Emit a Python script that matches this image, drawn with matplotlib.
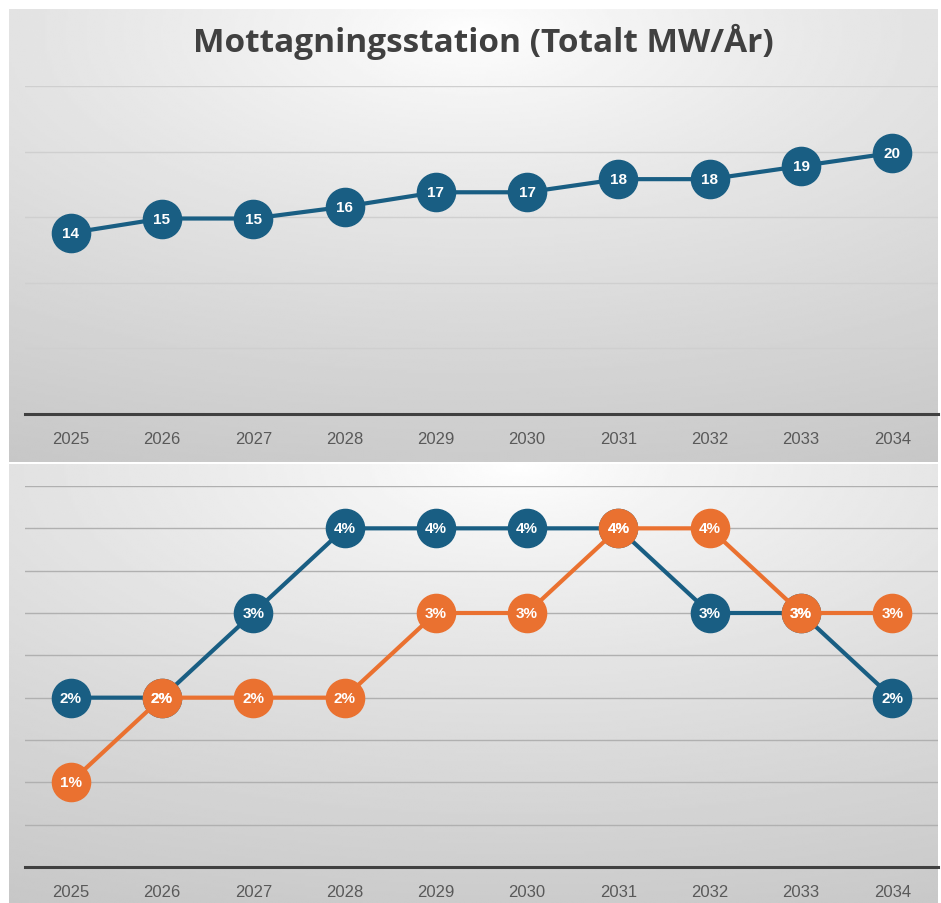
import numpy as np
import matplotlib
matplotlib.use('Agg')
import matplotlib.pyplot as plt

plt.rcParams['font.family'] = ['Liberation Sans', 'DejaVu Sans']

years = ['2025', '2026', '2027', '2028', '2029', '2030', '2031', '2032', '2033', '2034']
total_mw = [13.8, 14.9, 14.9, 15.8, 16.9, 16.9, 17.9, 17.9, 18.9, 19.9]
share_blue = [2, 2, 3, 4, 4, 4, 4, 3, 3, 2]
share_orange = [1, 2, 2, 2, 3, 3, 4, 4, 3, 3]

title = 'Mottagningsstation (Totalt MW/År)'
BLUE = '#195e83'
ORANGE = '#ea7130'

W, H = 941, 904
fig = plt.figure(figsize=(W / 100, H / 100), dpi=100)
fig.patch.set_facecolor('white')


def px_axes(x0, y0, x1, y1, **kw):
    # pixel box (top-left origin) -> figure axes
    return fig.add_axes([x0 / W, 1 - y1 / H, (x1 - x0) / W, (y1 - y0) / H], **kw)


def gradient(ax, cx, cy, lo=0.80):
    ny, nx = 200, 400
    yy, xx = np.mgrid[0:1:ny * 1j, 0:1:nx * 1j]
    d = np.sqrt(((xx - cx) * 1.0) ** 2 + ((yy - cy) * 1.1) ** 2)
    d = np.clip(d / d.max(), 0, 1)
    img = 1 - (1 - lo) * d ** 0.8
    ax.imshow(img, cmap='gray', vmin=0, vmax=1, aspect='auto',
              extent=[0, 1, 1, 0], interpolation='bilinear')
    ax.set_axis_off()


# backgrounds
bg1 = px_axes(9, 10, 938, 463)
gradient(bg1, 0.5, 0.05, lo=0.78)
bg2 = px_axes(9, 465, 938, 904)
gradient(bg2, 0.55, 0.0, lo=0.78)

fig.text(483 / W, 1 - 42 / H, title, ha='center', va='center',
         fontsize=24, fontweight='bold', color='#404040',
         family=['Open Sans', 'DejaVu Sans'])


def style(ax, ymax, step, grid_col):
    ax.set_facecolor('none')
    ax.set_xlim(-0.5, len(years) - 0.5)
    ax.set_ylim(0, ymax)
    ax.set_xticks(range(len(years)))
    ax.set_xticklabels(years, fontsize=12, color='#595959')
    ax.tick_params(axis='x', length=0, pad=12)
    ax.set_yticks(np.arange(step, ymax + step / 2, step))
    ax.tick_params(axis='y', length=0, labelleft=False)
    ax.grid(axis='y', color=grid_col, linewidth=1.0)
    ax.set_axisbelow(True)
    for s in ['top', 'left', 'right']:
        ax.spines[s].set_visible(False)
    ax.spines['bottom'].set_color('#404040')
    ax.spines['bottom'].set_linewidth(2.2)


def series(ax, vals, color, fmt):
    x = range(len(vals))
    ax.plot(x, vals, color=color, linewidth=3, marker='o', markersize=27.5,
            markeredgecolor=color, clip_on=False, zorder=3)
    for i, v in enumerate(vals):
        ax.text(i, v, fmt(v), ha='center', va='center', color='white',
                fontsize=11, fontweight='bold', zorder=4)


ax1 = px_axes(25, 87, 938, 415)
style(ax1, 25, 5, '#cfcfcf')
series(ax1, total_mw, BLUE, lambda v: f'{v:.0f}')

ax2 = px_axes(25, 487, 938, 868)
style(ax2, 4.5, 0.5, '#b0b0b0')
series(ax2, share_blue, BLUE, lambda v: f'{v:.0f}%')
series(ax2, share_orange, ORANGE, lambda v: f'{v:.0f}%')

fig.savefig('out.png', dpi=100)
